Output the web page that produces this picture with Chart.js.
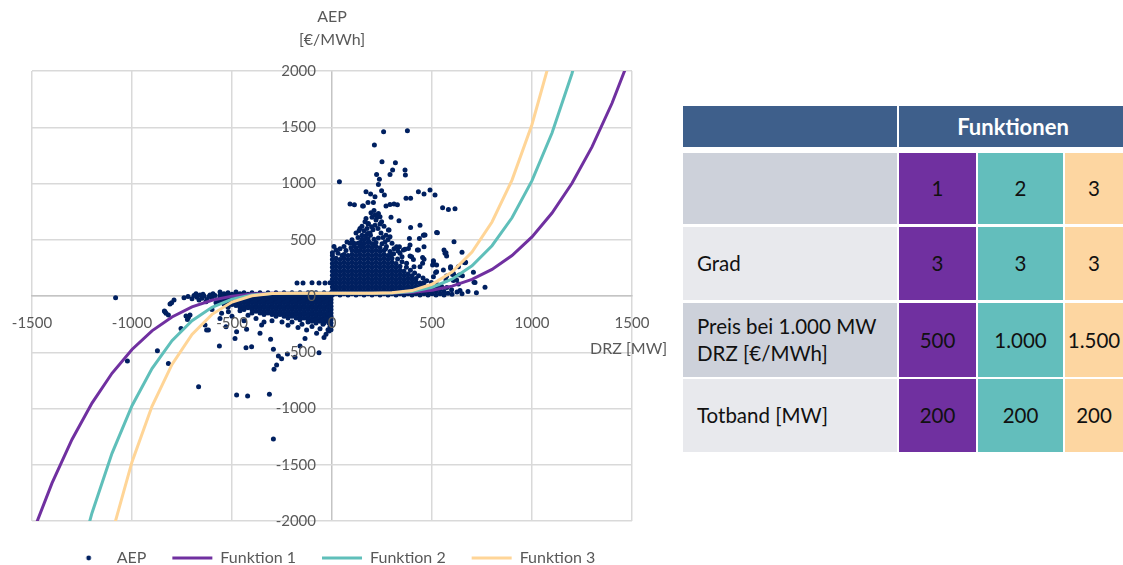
<!DOCTYPE html>
<html><head><meta charset="utf-8">
<script src="https://cdn.jsdelivr.net/npm/chart.js@4.4.1/dist/chart.umd.min.js"></script>
<style>
html,body{margin:0;padding:0;background:#fff;width:1123px;height:565px;overflow:hidden;font-family:Lato,sans-serif}
#wrap{position:absolute;left:0;top:0;width:680px;height:565px}
.cell{position:absolute;display:flex;align-items:center;box-sizing:border-box;font-family:Lato,sans-serif;font-size:20.5px;color:#111;line-height:27px;white-space:pre}
.num{justify-content:center;text-align:center}
.lab{padding-left:14px}
</style></head><body>
<div id="wrap"><canvas id="c"></canvas></div>
<div id="tbl"></div>
<script>
// ---------- DATA ----------
const xValues = [-1500,-1400,-1300,-1200,-1100,-1000,-900,-800,-700,-600,-500,-400,-300,-200,-100,0,100,200,300,400,500,600,700,800,900,1000,1100,1200,1300,1400,1500];
const funktion1 = [-2121,-1663,-1275,-952,-687,-475,-310,-186,-97,-38,-1,17,24,25,25,25,25,25,26,33,51,88,147,236,360,525,737,1002,1325,1713,2171];
const funktion2 = [-4266,-3350,-2575,-1928,-1399,-975,-645,-397,-219,-100,-28,9,23,25,25,25,25,25,27,41,78,150,269,447,695,1025,1449,1978,2625,3400,4316];
const funktion3 = [-6412,-5038,-3875,-2905,-2111,-1475,-980,-608,-341,-163,-54,2,22,25,25,25,25,25,28,48,104,213,391,658,1030,1525,2161,2955,3925,5088,6462];

// AEP scatter: dense cloud columns [x, [y...]] and scattered points
const aepPosColumns = [
 [2,[10,45,80,115,150,185,220,255,290,325,360,385]],
 [20,[20,55,90,125,160,195,230,265,300,335]],
 [40,[10,45,80,115,150,185,220,255,290,325]],
 [60,[20,55,90,125,160,195,230,265,300,335,370]],
 [80,[10,45,80,115,150,185,220,255,290,325,360]],
 [100,[20,55,90,125,160,195,230,265,300,335,370,405]],
 [120,[10,45,80,115,150,185,220,255,290,325,360,395,430]],
 [140,[20,55,90,125,160,195,230,265,300,335,370,405,440,475]],
 [160,[10,45,80,115,150,185,220,255,290,325,360,395,430,465,500]],
 [180,[20,55,90,125,160,195,230,265,300,335,370,405,440,475,510]],
 [200,[10,45,80,115,150,185,220,255,290,325,360,395,430,465]],
 [220,[20,55,90,125,160,195,230,265,300,335,370,405,440,475]],
 [240,[10,45,80,115,150,185,220,255,290,325,360,395,430]],
 [260,[20,55,90,125,160,195,230,265,300,335,370,405]],
 [280,[10,45,80,115,150,185,220,255,290,325,360]],
 [300,[20,55,90,125,160,195,230,265,300,335]],
 [320,[10,45,80,115,150,185,220,255,290]],
 [340,[20,55,90,125,160,195,230,265]],
 [360,[10,45,80,115,150,185,220]],
 [380,[20,55,90,125,160,195]],
 [400,[10,45,80,115,150,180]],
 [420,[20,55,90,125,155]],
 [440,[10,45,80,115]],
 [460,[20,55,90,120]],
 [480,[10,45,80]],
 [500,[20,55,85]],
 [520,[10,45]],
 [540,[20,55]],
 [560,[10,40]],
 [580,[25]],
 [600,[15]],
 [625,[35]],
 [650,[20]]
];
const aepNegColumns = [
 [-560,[35,5,-25,-55]],
 [-540,[20,-10,-40,-70]],
 [-520,[30,0,-30,-60,-90]],
 [-500,[15,-15,-45,-75]],
 [-480,[35,5,-25,-55,-85]],
 [-460,[20,-10,-40,-70,-100]],
 [-440,[30,0,-30,-60,-90,-120]],
 [-420,[15,-15,-45,-75,-105]],
 [-400,[30,0,-30,-60,-90,-120,-150]],
 [-380,[15,-15,-45,-75,-105,-135]],
 [-360,[30,0,-30,-60,-90,-120,-150]],
 [-340,[15,-15,-45,-75,-105,-135,-165]],
 [-320,[30,0,-30,-60,-90,-120,-150]],
 [-300,[15,-15,-45,-75,-105,-135,-165]],
 [-280,[30,0,-30,-60,-90,-120,-150,-180]],
 [-260,[15,-15,-45,-75,-105,-135,-165]],
 [-240,[30,0,-30,-60,-90,-120,-150,-180]],
 [-220,[15,-15,-45,-75,-105,-135,-165,-195]],
 [-200,[30,0,-30,-60,-90,-120,-150,-180]],
 [-180,[15,-15,-45,-75,-105,-135,-165,-195]],
 [-160,[30,0,-30,-60,-90,-120,-150,-180,-210]],
 [-140,[15,-15,-45,-75,-105,-135,-165,-195]],
 [-120,[30,0,-30,-60,-90,-120,-150,-180,-210]],
 [-100,[15,-15,-45,-75,-105,-135,-165,-195,-225]],
 [-80,[30,0,-30,-60,-90,-120,-150,-180,-210]],
 [-60,[15,-15,-45,-75,-105,-135,-165,-195,-225]],
 [-40,[30,0,-30,-60,-90,-120,-150,-180,-210,-240]],
 [-20,[15,-15,-45,-75,-105,-135,-165,-195,-225]],
 [-5,[30,0,-30,-60,-90,-120,-150,-180,-210,-240,-270]]
];
const aepScatter = [
 [258,1460],[377,1469],[212,1342],[250,1194],[317,1185],[303,1120],[365,1120],[290,1081],[367,1075],[223,1081],
 [237,1037],[232,992],[37,1016],[170,927],[248,936],[262,897],[215,883],[193,906],[207,832],[90,817],
 [112,811],[153,800],[270,800],[290,814],[310,817],[327,811],[370,868],[393,868],[432,927],[460,906],
 [490,942],[515,897],[553,785],[582,770],[615,776],[295,699],[232,734],[240,705],[215,720],[220,675],
 [248,660],[335,669],[393,610],[440,630],[523,565],[610,483],[140,601],[165,660],[182,645],[198,616],
 [282,586],[290,527],[323,438],[387,512],[437,512],[460,542],[382,423],[432,408],[560,408],[565,379],
 [573,355],[668,299],[715,121],[765,77],[523,216],[607,201],[632,260],[398,349],[440,260],[507,305],
 [523,275],[465,543],[527,563],[390,454],[365,415],[427,409],[460,326],[507,314],[650,389],[662,297],
 [373,291],[410,261],[453,291],[503,276],[518,208],[557,232],[593,246],[573,178],[615,178],[637,187],
 [707,211],[710,122],[607,137],[632,107],[523,69],[157,800],[180,832],[285,586],[457,539],[570,385],
 [337,438],[460,438],[357,408],[390,355],[407,325],[453,343],[593,260],[665,296],[652,180],[603,192],
 [507,171],[570,142],[623,142],[120,560],[130,520],[150,540],[160,580],[175,600],[190,560],[205,590],
 [215,630],[230,600],[245,560],[255,520],[265,480],[100,500],[110,470],[270,540],[280,500],[300,470],
 [310,420],[330,400],[340,380],[350,350],[180,640],[200,700],[170,690],[150,620],[195,740],[210,760],
 [225,700],[260,620],[240,640],[135,580],[90,470],[60,440],[40,420],[20,410],[10,440],[75,480],
 [30,380],[50,360],[70,405],[95,430],[110,445],[130,470],[150,505],[168,535],[178,555],[192,540],
 [210,505],[232,515],[250,465],[272,440],[290,395],[308,375],[328,330],[350,305],[372,255],[392,230],
 [413,205],[433,180],[455,160],[474,135],[497,120],[526,100],[548,85],[574,75],[598,55],[640,50],
 [680,40],[722,30],[186,480],[212,450],[146,440],[268,420],[124,400],[292,360],
 [-627,-302],[-563,-445],[-485,-377],[-477,-317],[-427,-296],[-430,-459],[-402,-451],[-352,-258],[-360,-332],[-307,-385],
 [-293,-474],[-268,-534],[-252,-557],[-277,-614],[-290,-652],[-223,-516],[-185,-545],[-160,-445],[-135,-377],[-127,-302],
 [-77,-332],[-40,-368],[-65,-504],[-477,-880],[-422,-889],[-313,-874],[-293,-1271],[-667,-806],[-1082,-15],[-1023,-578],
 [-873,-486],[-818,-599],[-835,-140],[-830,-154],[-818,-169],[-838,-134],[-802,-59],[-790,-36],[-810,-71],[-730,-178],
 [-718,-190],[-710,-169],[-723,-208],[-755,-288],[-635,-258],[-618,-302],[-530,-273],[-552,-154],[-518,-140],
 [-690,5],[-675,-10],[-660,8],[-650,-20],[-640,0],[-625,-30],[-610,10],[-600,-15],[-585,5],[-575,-35],
 [-700,-25],[-680,20],[-665,-35],[-645,15],[-630,-50],[-615,-5],[-595,20],[-580,-60],[-720,-5],[-740,-15],
 [-175,115],[-145,115],[-100,118],[-65,115],[-35,115],[-10,118],
 [-600,-120],[-560,-200],[-520,-100],[-500,-180],[-460,-130],[-440,-220],[-420,-170],[-380,-200],[-340,-230],[-300,-220],
 [-250,-230],[-220,-260],[-200,-230],[-170,-280],[-150,-250],[-120,-230],[-100,-270],[-80,-240],[-60,-290],[-45,-250],
 [-20,-300],[-15,-240],[-10,-270],[-30,-200],[-50,-220],[-15,-310],[-30,-340],[-5,-300]
];

const xTickStep = 500, yTickStep = 500;
const xRange = [-1500, 1500], yRange = [-2000, 2000];
const seriesNames = ['AEP','Funktion 1','Funktion 2','Funktion 3'];
const yAxisTitle = ['AEP','[€/MWh]'];
const xAxisTitle = 'DRZ [MW]';

// table data
const tableHeader = 'Funktionen';
const rowLabels = ['', 'Grad', 'Preis bei 1.000 MW\nDRZ [€/MWh]', 'Totband [MW]'];
const funcIds = ['1','2','3'];
const gradValues = ['3','3','3'];
const priceValues = ['500','1.000','1.500'];
const totbandValues = ['200','200','200'];

// ---------- BUILD ----------
const aepPoints = [];
aepPosColumns.concat(aepNegColumns).forEach(([x, ys]) => ys.forEach(y => aepPoints.push({x, y})));
aepScatter.forEach(([x, y]) => aepPoints.push({x, y}));
const toXY = arr => xValues.map((x, i) => ({x, y: arr[i]}));

const colors = {aep:'#002060', f1:'#7030a0', f2:'#5fbfba', f3:'#ffd597', grid:'#d9d9d9', axis:'#c4c4c4', text:'#595959'};

const dot = document.createElement('canvas');
dot.width = 8; dot.height = 8;
{ const g = dot.getContext('2d'); g.fillStyle = colors.aep; g.beginPath(); g.arc(4,4,2.4,0,Math.PI*2); g.fill(); }

const axisTitles = {
  id: 'axisTitles',
  afterDraw(chart) {
    const {ctx, scales: {x, y}} = chart;
    ctx.save();
    ctx.fillStyle = colors.text;
    ctx.font = '16px Lato';
    ctx.textBaseline = 'middle';
    ctx.textAlign = 'center';
    const cx = x.getPixelForValue(0);
    ctx.fillText(yAxisTitle[0], cx, 17);
    ctx.fillText(yAxisTitle[1], cx, 40);
    ctx.textAlign = 'left';
    ctx.fillText(xAxisTitle, x.right - 42, y.getPixelForValue(0) + 53);
    ctx.restore();
  }
};
const legendTweak = {
  id: 'legendTweak',
  beforeInit(chart) {
    const lg = chart.legend;
    if (lg) {
      const f = lg.fit; lg.fit = function(){ f.call(this); this.height = 44; };
      const d = lg.draw; lg.draw = function(){ this.top += 3; d.call(this); this.top -= 3; };
    }
  }
};
const noPad = s => { s.paddingLeft = 0; s.paddingRight = 0; s.paddingTop = 0; s.paddingBottom = 0; };

Chart.defaults.font.family = 'Lato';
new Chart(document.getElementById('c'), {
  type: 'scatter',
  data: {
    datasets: [
      {label: seriesNames[0], data: aepPoints, backgroundColor: colors.aep, borderColor: colors.aep, pointRadius: 2.5, borderWidth: 0, pointBorderWidth: 0, order: 4},
      {label: seriesNames[1], data: toXY(funktion1), showLine: true, borderColor: colors.f1, backgroundColor: colors.f1, borderWidth: 3, pointRadius: 0, tension: 0, order: 3},
      {label: seriesNames[2], data: toXY(funktion2), showLine: true, borderColor: colors.f2, backgroundColor: colors.f2, borderWidth: 3, pointRadius: 0, tension: 0, order: 2},
      {label: seriesNames[3], data: toXY(funktion3), showLine: true, borderColor: colors.f3, backgroundColor: colors.f3, borderWidth: 3, pointRadius: 0, tension: 0, order: 1}
    ]
  },
  options: {
    responsive: true, maintainAspectRatio: false, animation: false, events: [],
    layout: {padding: {top: 71, left: 32, right: 48, bottom: 0}},
    scales: {
      x: {type: 'linear', min: xRange[0], max: xRange[1], position: {y: 0},
        ticks: {stepSize: xTickStep, color: colors.text, font: {size: 15}, padding: 18, maxRotation: 0, autoSkip: false, z: 1, callback: v => String(v)},
        grid: {color: c => (c.tick && c.tick.value === 0) ? colors.axis : colors.grid, lineWidth: 1.5, drawTicks: false},
        border: {color: colors.axis, width: 1.5},
        afterFit(s) { s.height = 0; noPad(s); }
      },
      y: {type: 'linear', min: yRange[0], max: yRange[1], position: {x: -80},
        ticks: {stepSize: yTickStep, color: colors.text, font: {size: 15}, padding: 0, z: 1, callback: v => String(v)},
        grid: {color: colors.grid, lineWidth: 1.5, drawTicks: false},
        border: {display: false},
        afterFit(s) { s.width = 0; noPad(s); }
      }
    },
    plugins: {
      tooltip: {enabled: false},
      legend: {
        position: 'bottom',
        labels: {
          usePointStyle: true, pointStyleWidth: 40, padding: 26, color: colors.text, font: {size: 16},
          generateLabels(chart) {
            const items = Chart.defaults.plugins.legend.labels.generateLabels(chart);
            items.forEach(it => {
              const ds = chart.data.datasets[it.datasetIndex];
              if (it.datasetIndex === 0) { it.pointStyle = dot; }
              else { it.pointStyle = 'line'; it.lineWidth = 3; it.strokeStyle = ds.borderColor; }
            });
            return items.sort((a, b) => a.datasetIndex - b.datasetIndex);
          }
        }
      }
    }
  },
  plugins: [axisTitles, legendTweak]
});

// ---------- TABLE ----------
const tbl = document.getElementById('tbl');
function cell(x, y, w, h, bg, text, cls, extra) {
  const d = document.createElement('div');
  d.className = 'cell ' + cls;
  d.style.cssText = `left:${x}px;top:${y}px;width:${w}px;height:${h}px;background:${bg};` + (extra || '');
  d.textContent = text;
  tbl.appendChild(d);
}
const headBg = '#3e5f8b';
cell(683, 106, 214, 41, headBg, '', 'lab');
cell(899, 106, 224, 41, headBg, tableHeader, 'num', 'color:#fff;font-weight:700;font-size:22px;padding-left:4px;');
const rowTops = [153, 227, 303, 379], rowHs = [71, 73, 74, 73];
const leftBg = ['#cdd1da', '#e8e9ed', '#cdd1da', '#e8e9ed'];
const colX = [899, 978, 1065], colW = [77, 85, 58];
const fBg = [colors.f1, '#63bebc', '#fdd6a1'];
const rowsVals = [funcIds, gradValues, priceValues, totbandValues];
rowLabels.forEach((lab, r) => {
  cell(683, rowTops[r], 214, rowHs[r], leftBg[r], lab, 'lab');
  rowsVals[r].forEach((v, c) => cell(colX[c], rowTops[r], colW[c], rowHs[r], fBg[c], v, 'num'));
});
</script>
</body></html>
